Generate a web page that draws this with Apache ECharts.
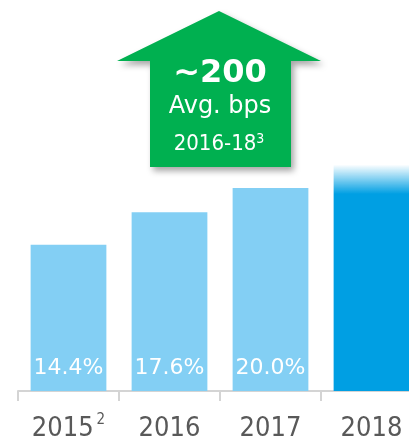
<!DOCTYPE html>
<html>
<head>
<meta charset="utf-8">
<script src="https://cdn.jsdelivr.net/npm/echarts@6/dist/echarts.min.js"></script>
<style>
	html, body { margin: 0; padding: 0; background: #fff; }
	#main { width: 409px; height: 439px; }
</style>
</head>
<body>
<div id="main"></div>
<script>
	// values (2018 has no label, only a faded bar)
	var years = ['2015', '2016', '2017', '2018'];
	var yearNotes = ['2', '', '', ''];
	var roe = [14.4, 17.6, 20.0, 22.3];
	var showLabel = [true, true, true, false];

	var lightBlue = '#83cff4';
	var darkBlue = '#009fe3';

	var chart = echarts.init(document.getElementById('main'));

	var barData = roe.map(function (v, i) {
		var item = { value: v, label: { show: showLabel[i] } };
		if (i === roe.length - 1) {
			item.itemStyle = {
				color: new echarts.graphic.LinearGradient(0, 0, 0, 1, [
					{ offset: 0, color: 'rgba(0,159,227,0)' },
					{ offset: 0.13, color: darkBlue },
					{ offset: 1, color: darkBlue }
				])
			};
		}
		return item;
	});

	chart.setOption({
		animation: false,
		grid: { left: 18, right: -13, top: 0, bottom: 48, outerBoundsMode: 'none', containLabel: false },
		xAxis: {
			type: 'category',
			data: years,
			boundaryGap: true,
			axisLine: { lineStyle: { color: '#d4d4d4', width: 2 } },
			axisTick: { show: true, alignWithLabel: false, length: 10, lineStyle: { color: '#d4d4d4', width: 2 } },
			axisLabel: {
				margin: 22,
				formatter: function (v, i) {
					return yearNotes[i] ? '{y|' + v + '}{s|' + yearNotes[i] + '}' : '{y|' + v + '}';
				},
				rich: {
					y: { fontFamily: 'DejaVu Sans Condensed', fontSize: 27, lineHeight: 32, color: '#595959' },
					s: { fontFamily: 'DejaVu Sans Condensed', fontSize: 15, lineHeight: 15, color: '#595959', verticalAlign: 'top', padding: [0, 0, 0, 3] }
				}
			}
		},
		yAxis: {
			type: 'value',
			min: 0,
			max: 38.5,
			show: false,
			splitLine: { show: false }
		},
		series: [{
			type: 'bar',
			barWidth: '75%',
			itemStyle: { color: lightBlue },
			label: {
				position: 'insideBottom',
				distance: 12,
				color: '#fff',
				fontFamily: 'DejaVu Sans',
				fontSize: 22,
				formatter: function (p) { return p.value.toFixed(1) + '%'; }
			},
			data: barData
		}],
		graphic: [
			{
				type: 'polygon',
				shape: {
					points: [[219, 11], [321, 61], [291, 61], [291, 167], [150, 167], [150, 61], [117, 61]]
				},
				style: {
					fill: '#00b050',
					shadowBlur: 6,
					shadowOffsetX: 3,
					shadowOffsetY: 4,
					shadowColor: 'rgba(0,0,0,0.35)'
				}
			},
			{
				type: 'text',
				x: 220, y: 74,
				style: { text: '~200', fill: '#fff', fontFamily: 'DejaVu Sans', fontWeight: 'bold', fontSize: 32, align: 'center', verticalAlign: 'middle' }
			},
			{
				type: 'text',
				x: 220, y: 107,
				style: { text: 'Avg. bps', fill: '#fff', fontFamily: 'DejaVu Sans', fontSize: 24, align: 'center', verticalAlign: 'middle' }
			},
			{
				type: 'text',
				x: 219, y: 144,
				style: {
					text: '{a|2016-18}{s|3}',
					align: 'center',
					verticalAlign: 'middle',
					rich: {
						a: { fill: '#fff', color: '#fff', fontFamily: 'DejaVu Sans Condensed', fontSize: 22, lineHeight: 26 },
						s: { fill: '#fff', color: '#fff', fontFamily: 'DejaVu Sans Condensed', fontSize: 14, lineHeight: 14, verticalAlign: 'top', padding: [1, 0, 0, 0] }
					}
				}
			}
		]
	});
</script>
</body>
</html>
